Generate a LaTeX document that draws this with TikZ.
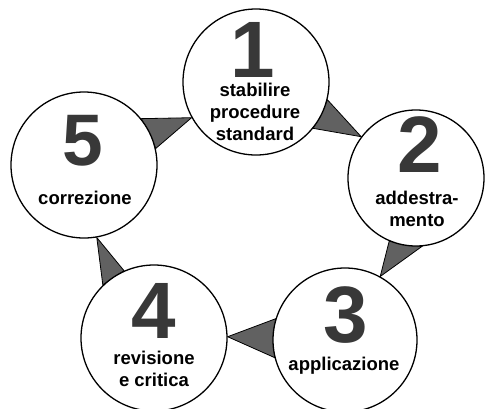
\documentclass[tikz,border=0pt]{standalone}
\usepackage{fontspec}
\setmainfont{Liberation Sans}
\usetikzlibrary{backgrounds}
\begin{document}
\begin{tikzpicture}[x=1pt,y=-1pt,
  ring/.style={circle,draw=black,line width=1.3pt,fill=white,inner sep=0pt,minimum size=#1},
  digit/.style={anchor=base,font=\fontsize{80}{80}\selectfont\bfseries,text=black!78,inner sep=0pt,text depth=0pt,text height=56pt},
  lbl/.style={anchor=base,font=\fontsize{18.5}{22}\selectfont\bfseries,align=center,inner sep=0pt},
  wedge/.style={draw=black,line width=0.8pt,fill=black!62,line join=miter}]
\useasboundingbox (0,0) rectangle (487,408);
\node[ring=146pt] (c1) at (256,82) {};
\node[ring=136pt] (c2) at (416,178) {};
\node[ring=144pt] (c3) at (345,340) {};
\node[ring=146pt] (c4) at (154,338) {};
\node[ring=146pt] (c5) at (84,165) {};
\node[digit] (d1) at (253,77) {1};
\node[lbl] (l1) at (255,140) {stabilire\\procedure\\standard};
\node[digit] (d2) at (420,172) {2};
\node[lbl] (l2) at (417,226) {addestra-\\mento};
\node[digit] (d3) at (346,342) {3};
\node[lbl] (l3) at (344,370) {applicazione};
\node[digit] (d4) at (154,338) {4};
\node[lbl] (l4) at (154,386) {revisione\\e critica};
\node[digit,font=\fontsize{73}{73}\selectfont\bfseries,text height=52pt] (d5) at (83,165) {5};
\node[lbl] (l5) at (85,204) {correzione};
\begin{scope}[on background layer]
\draw[wedge] (c1.-14) -- (c1.-39) -- (c2.143) -- cycle;
\draw[wedge] (c2.-113) -- (c2.-85) -- (c3.61) -- cycle;
\draw[wedge] (c3.163) -- (c3.194) -- (c4.1) -- cycle;
\draw[wedge] (c4.114) -- (c4.134) -- (c5.-80) -- cycle;
\draw[wedge] (c5.39) -- (c5.13) -- (c1.209) -- cycle;
\end{scope}
\end{tikzpicture}
\end{document}
